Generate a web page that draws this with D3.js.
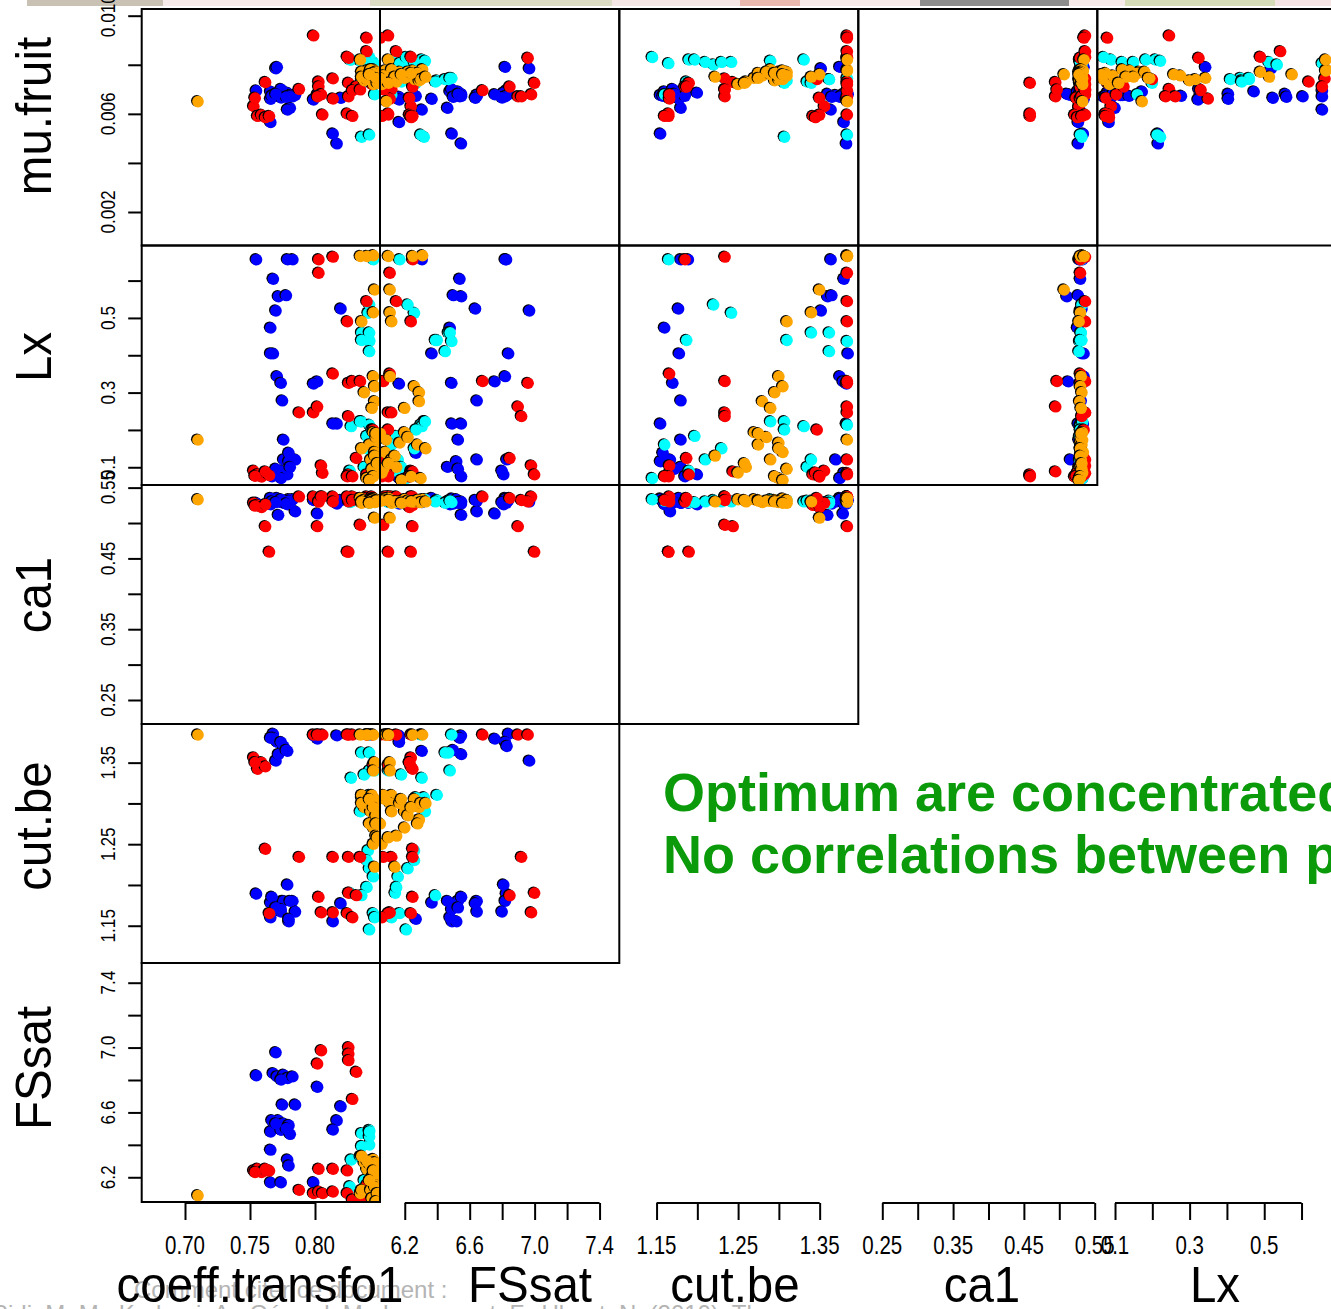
<!DOCTYPE html>
<html>
<head>
<meta charset="utf-8">
<script src="https://cdn.jsdelivr.net/npm/d3@7"></script>
<style>
  body { margin: 0; background: #fff; }
  svg { display: block; }
</style>
</head>
<body>
<div id="chart"></div>
<script>
const width = 1331;
const height = 1309;

// variable order of every run below
const varNames = ["coeff.transfo1", "FSsat", "cut.be", "ca1", "Lx", "mu.fruit"];
const rowVars = [5, 4, 3, 2, 1];   // mu.fruit, Lx, ca1, cut.be, FSsat
const colVars = [0, 1, 2, 3, 4];   // coeff.transfo1, FSsat, cut.be, ca1, Lx

// optimum runs: [coeff.transfo1, FSsat, cut.be, ca1, Lx, mu.fruit]
const blueRuns = [
  [0.770, 6.969, 1.352, 0.530, 0.519, 0.00784],
  [0.755, 6.827, 1.189, 0.528, 0.656, 0.00694],
  [0.768, 6.840, 1.385, 0.532, 0.404, 0.00680],
  [0.771, 6.820, 1.375, 0.535, 0.343, 0.00790],
  [0.776, 6.830, 1.370, 0.530, 0.120, 0.00675],
  [0.779, 6.810, 1.200, 0.526, 0.080, 0.00685],
  [0.783, 6.820, 1.180, 0.533, 0.656, 0.00670],
  [0.774, 6.800, 1.167, 0.529, 0.090, 0.00665],
  [0.802, 6.756, 1.379, 0.513, 0.329, 0.00678],
  [0.775, 6.646, 1.180, 0.531, 0.278, 0.00672],
  [0.785, 6.646, 1.167, 0.516, 0.120, 0.00676],
  [0.820, 6.636, 1.177, 0.532, 0.524, 0.00664],
  [0.817, 6.549, 1.383, 0.527, 0.216, 0.00478],
  [0.814, 6.492, 1.155, 0.534, 0.216, 0.00518],
  [0.768, 6.540, 1.380, 0.530, 0.604, 0.00670],
  [0.772, 6.550, 1.360, 0.511, 0.557, 0.00680],
  [0.776, 6.530, 1.180, 0.528, 0.173, 0.00690],
  [0.780, 6.520, 1.155, 0.533, 0.115, 0.00675],
  [0.766, 6.480, 1.160, 0.526, 0.473, 0.00690],
  [0.774, 6.490, 1.170, 0.530, 0.325, 0.00700],
  [0.781, 6.465, 1.180, 0.528, 0.100, 0.00623],
  [0.766, 6.368, 1.178, 0.535, 0.404, 0.00660],
  [0.779, 6.307, 1.364, 0.529, 0.656, 0.00616],
  [0.780, 6.270, 1.158, 0.531, 0.138, 0.00672],
  [0.766, 6.167, 1.380, 0.527, 0.084, 0.00565],
  [0.774, 6.167, 1.375, 0.533, 0.070, 0.00668],
  [0.799, 6.167, 1.383, 0.532, 0.323, 0.00657],
  [0.767, 6.550, 1.185, 0.530, 0.075, 0.00672],
  [0.778, 6.500, 1.365, 0.527, 0.560, 0.00668],
  [0.770, 6.530, 1.172, 0.529, 0.095, 0.00680]
];

const cyanRuns = [
  [0.836, 6.320, 1.307, 0.532, 0.222, 0.00505],
  [0.842, 6.300, 1.384, 0.530, 0.213, 0.00514],
  [0.836, 6.470, 1.362, 0.531, 0.460, 0.00740],
  [0.842, 6.490, 1.384, 0.529, 0.437, 0.00745],
  [0.842, 6.400, 1.310, 0.532, 0.440, 0.00735],
  [0.828, 6.307, 1.331, 0.530, 0.209, 0.00820],
  [0.835, 6.327, 1.290, 0.533, 0.222, 0.00815],
  [0.827, 6.142, 1.190, 0.529, 0.090, 0.00820],
  [0.842, 6.450, 1.362, 0.528, 0.410, 0.00740],
  [0.842, 6.480, 1.340, 0.531, 0.460, 0.00745],
  [0.841, 6.260, 1.242, 0.530, 0.513, 0.00810],
  [0.842, 6.220, 1.220, 0.532, 0.535, 0.00800],
  [0.845, 6.160, 1.210, 0.530, 0.120, 0.00810],
  [0.840, 6.150, 1.197, 0.529, 0.183, 0.00820],
  [0.845, 6.170, 1.165, 0.531, 0.656, 0.00805],
  [0.836, 6.390, 1.187, 0.530, 0.440, 0.00730],
  [0.842, 6.210, 1.145, 0.533, 0.070, 0.00830],
  [0.840, 6.260, 1.230, 0.530, 0.150, 0.00810],
  [0.838, 6.180, 1.335, 0.531, 0.100, 0.00730],
  [0.846, 6.100, 1.340, 0.529, 0.120, 0.00725],
  [0.844, 6.270, 1.307, 0.530, 0.200, 0.00725],
  [0.846, 6.120, 1.160, 0.531, 0.160, 0.00678]
];

const redRuns = [
  [0.753, 6.240, 1.356, 0.528, 0.090, 0.00630],
  [0.756, 6.250, 1.342, 0.525, 0.080, 0.00590],
  [0.759, 6.230, 1.350, 0.522, 0.074, 0.00595],
  [0.762, 6.240, 1.345, 0.526, 0.085, 0.00585],
  [0.765, 6.240, 1.165, 0.459, 0.078, 0.00590],
  [0.762, 6.250, 1.244, 0.495, 0.088, 0.00728],
  [0.754, 6.230, 1.350, 0.524, 0.076, 0.00664],
  [0.799, 6.100, 1.384, 0.537, 0.246, 0.00918],
  [0.788, 6.120, 1.234, 0.537, 0.246, 0.00700],
  [0.803, 6.110, 1.384, 0.530, 0.620, 0.00730],
  [0.806, 6.100, 1.384, 0.537, 0.084, 0.00596],
  [0.814, 6.250, 1.234, 0.537, 0.663, 0.00743],
  [0.803, 6.250, 1.185, 0.530, 0.656, 0.00710],
  [0.814, 6.110, 1.166, 0.530, 0.350, 0.00661],
  [0.805, 6.981, 1.166, 0.537, 0.104, 0.00678],
  [0.802, 6.899, 1.384, 0.495, 0.262, 0.00670],
  [0.826, 7.000, 1.190, 0.459, 0.080, 0.00725],
  [0.826, 6.960, 1.384, 0.530, 0.325, 0.00827],
  [0.826, 6.920, 1.234, 0.532, 0.236, 0.00670],
  [0.832, 6.848, 1.187, 0.535, 0.124, 0.00710],
  [0.829, 6.681, 1.384, 0.537, 0.330, 0.00695],
  [0.825, 6.240, 1.384, 0.537, 0.490, 0.00831],
  [0.825, 6.100, 1.165, 0.459, 0.075, 0.00600],
  [0.840, 6.150, 1.384, 0.537, 0.544, 0.00854],
  [0.840, 6.050, 1.384, 0.535, 0.080, 0.00909],
  [0.835, 6.070, 1.234, 0.497, 0.330, 0.00698],
  [0.829, 6.060, 1.160, 0.532, 0.075, 0.00590],
  [0.844, 6.080, 1.384, 0.537, 0.120, 0.00720],
  [0.845, 6.100, 1.347, 0.535, 0.200, 0.00740]
];

const orangeRuns = [
  [0.710, 6.087, 1.384, 0.533, 0.173, 0.00650],
  [0.845, 6.310, 1.384, 0.533, 0.667, 0.00780],
  [0.840, 6.250, 1.384, 0.530, 0.665, 0.00775],
  [0.835, 6.100, 1.384, 0.535, 0.665, 0.00820],
  [0.846, 6.110, 1.350, 0.507, 0.575, 0.00760],
  [0.845, 6.110, 1.340, 0.530, 0.514, 0.00750],
  [0.836, 6.120, 1.310, 0.528, 0.490, 0.00770],
  [0.845, 6.110, 1.300, 0.531, 0.343, 0.00745],
  [0.846, 6.260, 1.305, 0.530, 0.316, 0.00740],
  [0.838, 6.290, 1.295, 0.532, 0.300, 0.00735],
  [0.846, 6.290, 1.280, 0.529, 0.276, 0.00755],
  [0.844, 6.200, 1.290, 0.531, 0.258, 0.00760],
  [0.845, 6.200, 1.270, 0.533, 0.193, 0.00745],
  [0.847, 6.170, 1.300, 0.530, 0.165, 0.00770],
  [0.842, 6.280, 1.275, 0.532, 0.160, 0.00765],
  [0.846, 6.080, 1.305, 0.534, 0.140, 0.00775],
  [0.843, 6.120, 1.290, 0.531, 0.120, 0.00780],
  [0.847, 6.150, 1.260, 0.530, 0.100, 0.00730],
  [0.845, 6.060, 1.250, 0.533, 0.085, 0.00720],
  [0.840, 6.300, 1.300, 0.529, 0.070, 0.00740],
  [0.847, 6.220, 1.285, 0.531, 0.180, 0.00770],
  [0.844, 6.070, 1.310, 0.532, 0.095, 0.00755],
  [0.836, 6.330, 1.300, 0.530, 0.150, 0.00750],
  [0.846, 6.140, 1.222, 0.530, 0.130, 0.00750],
  [0.848, 6.100, 1.258, 0.532, 0.110, 0.00725],
  [0.845, 6.240, 1.295, 0.530, 0.075, 0.00765],
  [0.847, 6.050, 1.275, 0.531, 0.190, 0.00745],
  [0.842, 6.180, 1.305, 0.528, 0.065, 0.00760]
];

// axis domains (plot region limits) per variable
const domains = [
  [0.66669, 0.85],      // coeff.transfo1
  [6.0475, 7.5216],     // FSsat
  [1.1043, 1.3974],     // cut.be
  [0.2161, 0.5537],     // ca1
  [0.0525, 0.694],      // Lx
  [0.000635, 0.010273]  // mu.fruit
];

// ticks and their labels ("" = tick without label)
const coeffTicks = [0.70, 0.75, 0.80];
const coeffLabels = ["0.70", "0.75", "0.80"];
const fssatTicks = [6.2, 6.4, 6.6, 6.8, 7.0, 7.2, 7.4];
const fssatLabels = ["6.2", "", "6.6", "", "7.0", "", "7.4"];
const cutbeTicks = [1.15, 1.20, 1.25, 1.30, 1.35];
const cutbeLabels = ["1.15", "", "1.25", "", "1.35"];
const ca1Ticks = [0.25, 0.30, 0.35, 0.40, 0.45, 0.50, 0.55];
const ca1Labels = ["0.25", "", "0.35", "", "0.45", "", "0.55"];
const lxTicks = [0.1, 0.2, 0.3, 0.4, 0.5, 0.6];
const lxLabels = ["0.1", "", "0.3", "", "0.5", ""];
const muTicks = [0.002, 0.004, 0.006, 0.008, 0.010];
const muLabels = ["0.002", "", "0.006", "", "0.010"];

const ticksByVar = [coeffTicks, fssatTicks, cutbeTicks, ca1Ticks, lxTicks, muTicks];
const labelsByVar = [coeffLabels, fssatLabels, cutbeLabels, ca1Labels, lxLabels, muLabels];

// panel grid (pixel edges)
const colX = [141.7, 380, 619.3, 858.3, 1097.3, 1336.6];
const rowY = [9, 245.5, 485, 724, 963, 1202];

const groups = [
  { runs: blueRuns, color: "#0000ff" },
  { runs: cyanRuns, color: "#00ffff" },
  { runs: redRuns, color: "#ff0000" },
  { runs: orangeRuns, color: "#ffa500" }
];
const points = groups.flatMap(g => g.runs.map(v => ({ v: v, color: g.color })));

const svg = d3.select("#chart")
  .append("svg")
  .attr("width", width)
  .attr("height", height)
  .style("background-color", "#ffffff");

// ── slide background strip at the very top ──
const strip = [
  [27, 163, "#c9c2b4"], [163, 370, "#f6eaea"], [370, 612, "#dcdcc4"],
  [612, 740, "#f5e6e6"], [740, 800, "#e9b9b0"], [800, 920, "#f6eaea"],
  [920, 1069, "#8c8c8c"], [1069, 1125, "#f6eaea"], [1125, 1275, "#d7dcb8"],
  [1275, 1331, "#f4e4e4"]
];
svg.selectAll("rect.strip").data(strip).join("rect")
  .attr("class", "strip")
  .attr("x", d => d[0]).attr("y", 0)
  .attr("width", d => d[1] - d[0]).attr("height", 6)
  .attr("fill", d => d[2]);

const xScales = colVars.map((vi, c) =>
  d3.scaleLinear().domain(domains[vi]).range([colX[c], colX[c + 1]]));
const yScales = rowVars.map((vi, r) =>
  d3.scaleLinear().domain(domains[vi]).range([rowY[r + 1], rowY[r]]));

const defs = svg.append("defs");

// ── panels (lower triangle) ──
for (let r = 0; r < 5; r++) {
  for (let c = 0; c < 5 - r; c++) {
    const xs = xScales[c], ys = yScales[r];
    const xi = colVars[c], yi = rowVars[r];
    const id = `clip-${r}-${c}`;
    defs.append("clipPath").attr("id", id)
      .append("rect")
      .attr("x", colX[c]).attr("y", rowY[r])
      .attr("width", colX[c + 1] - colX[c]).attr("height", rowY[r + 1] - rowY[r]);

    const g = svg.append("g").attr("clip-path", `url(#${id})`);
    const pt = g.selectAll("g.pt").data(points).join("g").attr("class", "pt");
    pt.append("circle")
      .attr("cx", d => xs(d.v[xi]) - 1.2)
      .attr("cy", d => ys(d.v[yi]) - 0.8)
      .attr("r", 5.8)
      .attr("fill", "#000");
    pt.append("circle")
      .attr("cx", d => xs(d.v[xi]))
      .attr("cy", d => ys(d.v[yi]))
      .attr("r", 5.8)
      .attr("fill", d => d.color);

    svg.append("rect")
      .attr("x", colX[c]).attr("y", rowY[r])
      .attr("width", colX[c + 1] - colX[c]).attr("height", rowY[r + 1] - rowY[r])
      .attr("fill", "none")
      .attr("stroke", "#000")
      .attr("stroke-width", 2);
  }
}

// ── left axes, one per row ──
rowVars.forEach((vi, r) => {
  const ax = svg.append("g")
    .attr("transform", `translate(${colX[0]},0)`)
    .call(d3.axisLeft(yScales[r]).tickValues(ticksByVar[vi]).tickSize(13.5).tickFormat(""));
  ax.select(".domain").remove();
  ax.selectAll(".tick line").attr("stroke", "#000").attr("stroke-width", 2);

  svg.selectAll(null).data(ticksByVar[vi].map((t, i) => [t, labelsByVar[vi][i]]).filter(d => d[1]))
    .join("text")
    .attr("transform", d => `translate(115,${yScales[r](d[0])}) rotate(-90) scale(0.82,1)`)
    .attr("text-anchor", "middle")
    .attr("font-family", "'Liberation Sans', Arial, sans-serif")
    .attr("font-size", 21)
    .attr("fill", "#000")
    .text(d => d[1]);
});

// ── bottom axes, one per column ──
const axisY = 1203;
colVars.forEach((vi, c) => {
  const ticks = ticksByVar[vi];
  const xs = xScales[c];
  const ax = svg.append("g")
    .attr("transform", `translate(0,${axisY})`)
    .call(d3.axisBottom(xs).tickValues(ticks).tickSize(17).tickFormat(""));
  ax.select(".domain").remove();
  ax.selectAll(".tick line").attr("stroke", "#000").attr("stroke-width", 2);
  ax.append("line")
    .attr("x1", xs(ticks[0])).attr("x2", xs(ticks[ticks.length - 1]))
    .attr("y1", 0).attr("y2", 0)
    .attr("stroke", "#000").attr("stroke-width", 2);

  svg.selectAll(null).data(ticks.map((t, i) => [t, labelsByVar[vi][i]]).filter(d => d[1]))
    .join("text")
    .attr("transform", d => `translate(${xs(d[0])},1254) scale(0.82,1)`)
    .attr("text-anchor", "middle")
    .attr("font-family", "'Liberation Sans', Arial, sans-serif")
    .attr("font-size", 25)
    .attr("fill", "#000")
    .text(d => d[1]);
});

// ── slide footer (partly hidden behind the chart labels) ──
svg.append("text")
  .attr("x", 134).attr("y", 1298)
  .attr("font-family", "'Liberation Sans', Arial, sans-serif")
  .attr("font-size", 24)
  .attr("fill", "#b4b4b4")
  .text("Comment citer ce document :");
svg.append("text")
  .attr("x", -8).attr("y", 1322)
  .attr("font-family", "'Liberation Sans', Arial, sans-serif")
  .attr("font-size", 24)
  .attr("fill", "#b4b4b4")
  .text("Sidi, M. M., Kadrani, A., Génard, M., Lescourret, F., Ulgart, N. (2010). The");

// ── variable names ──
const yNamePos = [116, 357, 595, 826, 1068];
rowVars.forEach((vi, r) => {
  svg.append("text")
    .attr("transform", `translate(51,${yNamePos[r]}) rotate(-90) scale(0.95,1)`)
    .attr("text-anchor", "middle")
    .attr("font-family", "'Liberation Sans', Arial, sans-serif")
    .attr("font-size", 50)
    .attr("fill", "#000")
    .text(varNames[vi]);
});
const xNamePos = [260, 530, 735, 982, 1215];
colVars.forEach((vi, c) => {
  svg.append("text")
    .attr("transform", `translate(${xNamePos[c]},1302) scale(0.95,1)`)
    .attr("text-anchor", "middle")
    .attr("font-family", "'Liberation Sans', Arial, sans-serif")
    .attr("font-size", 50)
    .attr("fill", "#000")
    .text(varNames[vi]);
});

// ── annotation ──
const notes = ["Optimum are concentrated", "No correlations between parameters"];
svg.selectAll("text.note").data(notes).join("text")
  .attr("class", "note")
  .attr("x", 663)
  .attr("y", (d, i) => 811 + i * 62)
  .attr("font-family", "'Liberation Sans', Arial, sans-serif")
  .attr("font-weight", "bold")
  .attr("font-size", 54)
  .attr("fill", "#0a9a0a")
  .text(d => d);
</script>
</body>
</html>
